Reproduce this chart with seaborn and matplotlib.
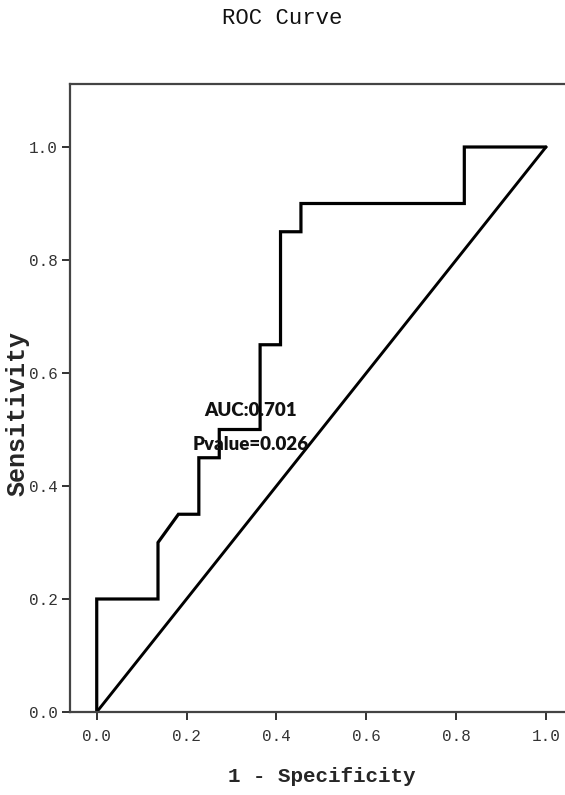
import matplotlib
matplotlib.use("Agg")
import matplotlib.pyplot as plt
import seaborn as sns
import pandas as pd

# ROC curve points (1 - specificity, sensitivity)
fpr = [0, 0, 3/22, 3/22, 4/22, 5/22, 5/22, 6/22, 6/22, 8/22, 8/22,
       9/22, 9/22, 10/22, 10/22, 18/22, 18/22, 1.0]
tpr = [0, 0.2, 0.2, 0.3, 0.35, 0.35, 0.45, 0.45, 0.5, 0.5, 0.65,
       0.65, 0.85, 0.85, 0.9, 0.9, 1.0, 1.0]
ref_x = [0, 1]
ref_y = [0, 1]
ticks = [0.0, 0.2, 0.4, 0.6, 0.8, 1.0]
tick_labels = ["0.0", "0.2", "0.4", "0.6", "0.8", "1.0"]
auc_text = "AUC:0.701"
p_text = "Pvalue=0.026"

sns.set_style("white")
plt.rcParams["font.family"] = ["Liberation Mono", "DejaVu Sans Mono"]

fig = plt.figure(figsize=(5.65, 7.95), dpi=100)
ax = fig.add_axes([70/565, (795-712)/795, 1 - 70/565, (712-84)/795])

roc = pd.DataFrame({"x": fpr, "y": tpr})
ref = pd.DataFrame({"x": ref_x, "y": ref_y})
sns.lineplot(data=roc, x="x", y="y", sort=False, estimator=None, ax=ax,
             color="black", linewidth=2.3, solid_joinstyle="miter")
sns.lineplot(data=ref, x="x", y="y", sort=False, estimator=None, ax=ax,
             color="black", linewidth=2.1)

ax.set_xlim(-0.0595, 1.0423)
ax.set_ylim(0, 1.1115)
ax.set_xticks(ticks)
ax.set_xticklabels(tick_labels)
ax.set_yticks(ticks)
ax.set_yticklabels(tick_labels)
ax.tick_params(axis="both", direction="out", length=6, width=1.3,
               color="#222222", labelsize=11.5, labelcolor="#333333", pad=3,
               bottom=True, left=True)
ax.tick_params(axis="x", pad=6)

for s in ["left", "top", "bottom"]:
    ax.spines[s].set_color("#444444")
    ax.spines[s].set_linewidth(1.6)
ax.spines["right"].set_visible(False)

ax.set_xlabel("1 - Specificity", fontsize=15, fontweight="bold")
ax.xaxis.label.set_va("center")
ax.xaxis.set_label_coords((322 - 70) / 495, -(776 - 712) / 628)
ax.set_ylabel("Sensitivity", fontsize=18, fontweight="bold")
ax.yaxis.label.set_va("center")
ax.yaxis.set_label_coords(-(70 - 18) / 495, (712 - 414) / 628)

fig.text(0.5, 1 - 18/795, "ROC Curve", ha="center", va="center", fontsize=16,
         color="#111111")

ax.text(0.343, 0.533, auc_text, ha="center", va="center", fontsize=13.5,
        fontweight="heavy", family=["Lato", "DejaVu Sans"], color="#111111")
ax.text(0.343, 0.474, p_text, ha="center", va="center", fontsize=13.5,
        fontweight="heavy", family=["Lato", "DejaVu Sans"], color="#111111")

fig.savefig("out.png", dpi=100, facecolor="white")
